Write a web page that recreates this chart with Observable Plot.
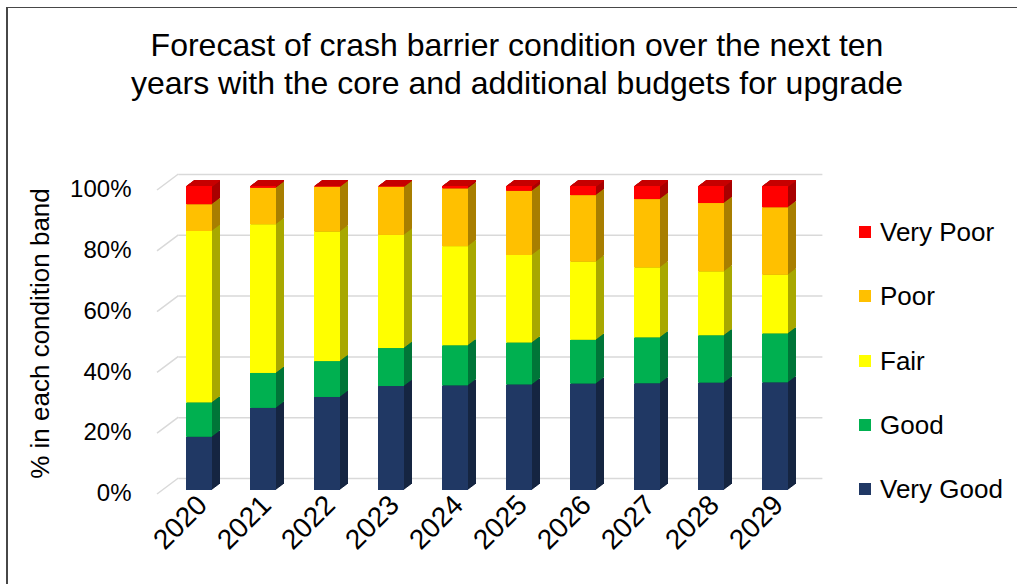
<!DOCTYPE html>
<html><head><meta charset="utf-8">
<script src="https://cdn.jsdelivr.net/npm/d3@7"></script>
<script src="https://cdn.jsdelivr.net/npm/@observablehq/plot@0.6"></script>
<style>
body{margin:0;background:#fff;font-family:"Liberation Sans",Arial,sans-serif;}
#wrap{position:relative;width:1017px;height:584px;overflow:hidden;background:#fff;}
#frame{position:absolute;left:6px;top:7px;width:1200px;height:800px;border-left:2px solid #474747;border-top:1.5px solid #474747;}
#chart{position:absolute;left:0;top:0;}
#title{position:absolute;left:0;top:26px;width:1034px;text-align:center;font-size:32px;line-height:38px;color:#000;}
#legend{position:absolute;left:0;top:0;}
.item{position:absolute;left:859px;height:30px;display:flex;align-items:center;font-size:26px;color:#000;white-space:nowrap;}
.sw{width:12px;height:12px;margin-right:9px;}
</style></head>
<body>
<div id="wrap">
  <div id="frame"></div>
  <div id="chart"></div>
  <div id="title">Forecast of crash barrier condition over the next ten<br>years with the core and additional budgets for upgrade</div>
  <div id="legend"></div>
</div>
<script>
const years = ["2020","2021","2022","2023","2024","2025","2026","2027","2028","2029"];
const bands = ["Very Good","Good","Fair","Poor","Very Poor"];
const veryGood = [17.5, 27.0, 30.6, 34.2, 34.4, 34.7, 35.0, 35.1, 35.3, 35.4];
const good     = [11.3, 11.5, 11.8, 12.5, 13.2, 13.8, 14.4, 15.1, 15.6, 16.1];
const fair     = [56.4, 48.9, 42.6, 37.2, 32.6, 28.8, 25.7, 23.0, 21.0, 19.3];
const poor     = [ 8.8, 12.0, 14.8, 15.9, 19.0, 21.1, 21.9, 22.5, 22.5, 22.2];
const veryPoor = [ 6.0,  0.6,  0.2,  0.2,  0.8,  1.6,  3.0,  4.3,  5.6,  7.0];
const frontColors = ["#203864","#00B050","#FFFF00","#FFC000","#FF0000"];
const sideColors  = ["#152541","#007538","#A8A800","#A87E00","#A80000"];
const topColor = "#C60000";
const yTicks = [0, 20, 40, 60, 80, 100];
const yTitle = "% in each condition band";

const series = [veryGood, good, fair, poor, veryPoor];
const rows = [];
bands.forEach((b, i) => years.forEach((yr, j) => rows.push({year: yr, band: b, value: series[i][j], front: frontColors[i], side: sideColors[i]})));
const totals = years.map((yr, j) => ({year: yr, total: d3.sum(series, s => s[j])}));

const DEPTH = 8, SLOPE = 0.75;
const sideLayers = [];
for (let k = DEPTH; k >= 1; k--) {
  sideLayers.push(Plot.barY(rows, Plot.stackY({x: "year", y: "value", z: "band", order: bands, fill: "side", dx: k, dy: -SLOPE * k})));
}
const topLayers = [];
for (let k = 0.5; k <= DEPTH; k += 0.5) {
  topLayers.push(Plot.tickY(totals, {x: "year", y: "total", stroke: topColor, strokeWidth: 1, dx: k, dy: -SLOPE * k}));
}

const diagonals = Plot.ruleY(yTicks, {
  y: d => d,
  render(index, scales, values, dimensions) {
    const g = d3.create("svg:g");
    for (const i of index) {
      const yv = scales.y(yTicks[i]);
      g.append("line")
        .attr("x1", dimensions.marginLeft - 7).attr("y1", yv + 4)
        .attr("x2", dimensions.marginLeft + 14.4).attr("y2", yv - 12)
        .attr("stroke", "#D9D9D9").attr("stroke-width", 1.5);
    }
    return g.node();
  }
});

const chart = Plot.plot({
  width: 1017, height: 584,
  marginLeft: 164, marginRight: 207, marginTop: 186, marginBottom: 94,
  style: {fontFamily: "'Liberation Sans', Arial, sans-serif", fontSize: "24px", color: "#000", background: "transparent"},
  x: {domain: years, paddingInner: 0.6, paddingOuter: 0.3, label: null},
  y: {domain: [0, 100], label: null},
  color: {type: "identity"},
  marks: [
    Plot.ruleY(yTicks, {stroke: "#D9D9D9", strokeWidth: 1.5, dy: -12, insetLeft: 14.4, insetRight: -12.4}),
    diagonals,
    ...sideLayers,
    ...topLayers,
    Plot.barY(rows, Plot.stackY({x: "year", y: "value", z: "band", order: bands, fill: "front"})),
    Plot.axisY(yTicks, {tickSize: 0, tickPadding: 33, dy: 3, tickFormat: d => d + "%", label: null}),
    Plot.axisX({tickSize: 0, tickRotate: -45, tickPadding: 10, dx: 3, fontSize: 28, label: null}),
    Plot.text([yTitle], {frameAnchor: "left", textAnchor: "middle", rotate: -90, dx: -124, dy: -5, fontSize: 26})
  ]
});
document.getElementById("chart").appendChild(chart);

const legend = document.getElementById("legend");
const legendY = [232, 296, 361, 425, 489];
bands.slice().reverse().forEach((b, i) => {
  const idx = bands.indexOf(b);
  const item = document.createElement("div");
  item.className = "item";
  item.style.top = (legendY[i] - 15) + "px";
  const sw = document.createElement("span");
  sw.className = "sw";
  sw.style.background = frontColors[idx];
  item.appendChild(sw);
  item.appendChild(document.createTextNode(b));
  legend.appendChild(item);
});
</script>
</body></html>
